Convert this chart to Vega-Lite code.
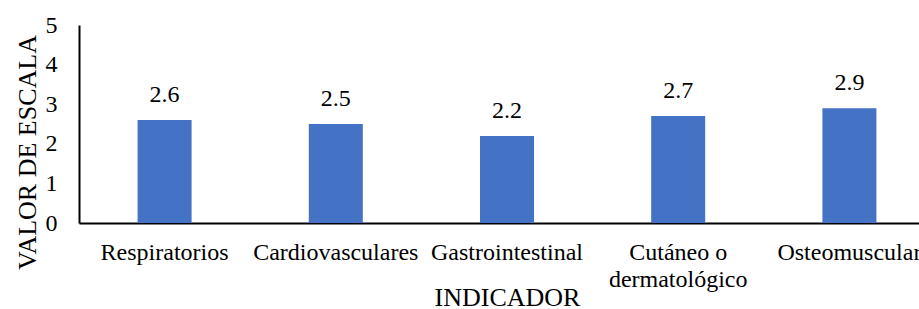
{
  "$schema": "https://vega.github.io/schema/vega-lite/v6.json",
  "width": 840,
  "height": 198,
  "autosize": {"type": "none"},
  "padding": {"left": 79, "top": 25, "right": 0, "bottom": 86},
  "background": "white",
  "config": {
    "view": {"stroke": null},
    "font": "Liberation Serif",
    "text": {"font": "Liberation Serif"},
    "axis": {"labelFont": "Liberation Serif", "titleFont": "Liberation Serif", "labelColor": "black", "titleColor": "black", "titleFontWeight": "normal", "domainColor": "black", "domainWidth": 2, "grid": false, "ticks": false, "labelOverlap": false}
  },
  "data": {"values": [
    {"indicador": "Respiratorios", "valor": 2.6},
    {"indicador": "Cardiovasculares", "valor": 2.5},
    {"indicador": "Gastrointestinal", "valor": 2.2},
    {"indicador": "Cutáneo o dermatológico", "valor": 2.7},
    {"indicador": "Osteomuscular", "valor": 2.9}
  ]},
  "encoding": {
    "x": {"field": "indicador", "type": "nominal", "sort": null,
      "scale": {"range": [0, 856], "paddingInner": 0, "paddingOuter": 0},
      "axis": {"title": "INDICADOR", "labelAngle": 0, "labelFontSize": 24, "titleFontSize": 26, "labelPadding": 17, "labelLineHeight": 27, "labelLimit": 400,
        "titleY": 82, "titleBaseline": "alphabetic",
        "labelExpr": "datum.label == 'Cutáneo o dermatológico' ? ['Cutáneo o', 'dermatológico'] : datum.label"}},
    "y": {"field": "valor", "type": "quantitative",
      "scale": {"domain": [0, 5]},
      "axis": {"title": "VALOR DE ESCALA", "values": [0,1,2,3,4,5], "labelFontSize": 24, "titleFontSize": 26, "labelPadding": 22,
        "titleX": -44, "titleY": 127, "titleAngle": -90, "titleBaseline": "alphabetic", "titleAlign": "center"}}
  },
  "layer": [
    {"mark": {"type": "bar", "color": "#4472C4", "size": 54}},
    {"mark": {"type": "text", "font": "Liberation Serif", "fontSize": 24, "baseline": "alphabetic", "dy": -18, "color": "black"},
     "encoding": {"text": {"field": "valor", "type": "quantitative", "format": ".1f"}}}
  ]
}
